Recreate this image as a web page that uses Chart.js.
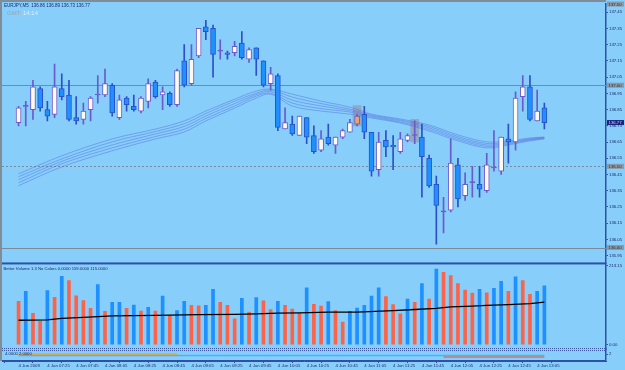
<!DOCTYPE html>
<html>
<head>
<meta charset="utf-8">
<script src="https://cdn.jsdelivr.net/npm/chart.js@4.4.1/dist/chart.umd.min.js"></script>
<style>
  html, body { margin: 0; padding: 0; background: #87cefa; }
  canvas { display: block; }
</style>
</head>
<body>
<canvas id="chart" width="625" height="370"></canvas>
<script>
// EURJPY M5, 4 Jun 2009 07:05 .. 13:10
const timeLabels = ["4 Jun 2009", "4 Jun 07:25", "4 Jun 07:45", "4 Jun 08:05", "4 Jun 08:25",
  "4 Jun 08:45", "4 Jun 09:05", "4 Jun 09:25", "4 Jun 09:45", "4 Jun 10:05", "4 Jun 10:25",
  "4 Jun 10:45", "4 Jun 11:05", "4 Jun 11:25", "4 Jun 11:45", "4 Jun 12:05", "4 Jun 12:25",
  "4 Jun 12:45", "4 Jun 13:05"];
const timeTickIdx = [0, 4, 8, 12, 16, 20, 24, 28, 32, 36, 40, 44, 48, 52, 56, 60, 64, 68, 72];

const opens = [136.77, 136.87, 136.85, 136.98, 136.85, 136.82, 136.98, 136.94, 136.80, 136.79,
  136.85, 136.94, 136.94, 137.00, 136.80, 136.92, 136.87, 136.84, 136.90, 137.02,
  136.94, 136.95, 136.88, 137.15, 137.01, 137.18, 137.36, 137.35, 137.21, 137.20,
  137.20, 137.26, 137.16, 137.23, 137.15, 137.01, 137.06, 136.73, 136.76, 136.69,
  136.80, 136.69, 136.60, 136.68, 136.63, 136.68, 136.71, 136.76, 136.82, 136.71,
  136.48, 136.66, 136.63, 136.59, 136.66, 136.69, 136.68, 136.55, 136.39, 136.22,
  136.23, 136.51, 136.32, 136.40, 136.39, 136.35, 136.49, 136.47, 136.67, 136.65,
  136.93, 136.99, 136.78, 136.86];
const highs = [136.87, 136.90, 137.03, 136.99, 136.90, 137.13, 137.07, 137.03, 136.93, 136.89,
  136.93, 137.06, 137.10, 137.01, 136.94, 136.93, 136.94, 136.93, 137.04, 137.03,
  136.99, 136.96, 137.10, 137.25, 137.25, 137.35, 137.40, 137.37, 137.28, 137.21,
  137.27, 137.33, 137.23, 137.23, 137.15, 137.11, 137.07, 136.86, 136.81, 136.81,
  136.80, 136.75, 136.72, 136.76, 136.68, 136.73, 136.79, 136.82, 136.87, 136.71,
  136.71, 136.72, 136.69, 136.71, 136.70, 136.78, 136.76, 136.57, 136.44, 136.31,
  136.67, 136.55, 136.46, 136.50, 136.50, 136.58, 136.72, 136.68, 136.76, 136.96,
  137.06, 137.06, 136.97, 136.89];
const lows = [136.75, 136.75, 136.79, 136.84, 136.78, 136.80, 136.91, 136.78, 136.76, 136.76,
  136.78, 136.89, 136.93, 136.81, 136.79, 136.84, 136.84, 136.83, 136.86, 136.92,
  136.85, 136.87, 136.87, 136.99, 137.00, 137.17, 137.28, 137.05, 137.16, 137.16,
  137.18, 137.16, 137.14, 137.06, 136.99, 136.97, 136.72, 136.73, 136.69, 136.69,
  136.64, 136.58, 136.59, 136.63, 136.58, 136.67, 136.71, 136.75, 136.67, 136.44,
  136.44, 136.56, 136.48, 136.58, 136.65, 136.64, 136.31, 136.37, 136.02, 136.09,
  136.22, 136.25, 136.29, 136.31, 136.31, 136.34, 136.47, 136.45, 136.52, 136.60,
  136.84, 136.78, 136.78, 136.73];
const closes = [136.86, 136.87, 136.99, 136.86, 136.81, 136.99, 136.93, 136.79, 136.78, 136.84,
  136.92, 136.94, 137.01, 136.83, 136.91, 136.88, 136.85, 136.92, 137.01, 136.93,
  136.96, 136.88, 137.09, 137.00, 137.16, 137.35, 137.33, 137.19, 137.21, 137.19,
  137.24, 137.17, 137.22, 137.16, 137.00, 137.07, 136.74, 136.77, 136.70, 136.81,
  136.68, 136.59, 136.67, 136.64, 136.68, 136.72, 136.77, 136.81, 136.71, 136.47,
  136.65, 136.62, 136.62, 136.67, 136.69, 136.69, 136.56, 136.38, 136.26, 136.22,
  136.52, 136.30, 136.39, 136.40, 136.36, 136.51, 136.49, 136.68, 136.65, 136.92,
  136.99, 136.79, 136.84, 136.77];

// marked bars (grey boxes) and their price span
const markIdx = [47, 55];
const markLo = [136.75, 136.65];
const markHi = [136.875, 136.79];

// moving average ribbon, read at these bars
const maIdx = [0, 6, 13, 19, 23, 26, 30, 33, 35, 38, 42, 46, 49, 53, 57, 61, 65, 68, 71, 73];
const ma1 = [136.454, 136.565, 136.669, 136.730, 136.780, 136.841, 136.914, 136.964, 136.976, 136.945,
  136.902, 136.865, 136.822, 136.792, 136.755, 136.694, 136.651, 136.657, 136.675, 136.681];
const ma2 = [136.436, 136.546, 136.651, 136.715, 136.763, 136.826, 136.902, 136.951, 136.970, 136.927,
  136.887, 136.853, 136.816, 136.786, 136.746, 136.684, 136.641, 136.651, 136.670, 136.678];
const ma3 = [136.418, 136.531, 136.632, 136.700, 136.746, 136.810, 136.887, 136.942, 136.961, 136.908,
  136.872, 136.844, 136.810, 136.780, 136.737, 136.675, 136.632, 136.645, 136.666, 136.675];
const ma4 = [136.399, 136.516, 136.614, 136.684, 136.729, 136.795, 136.872, 136.933, 136.951, 136.890,
  136.856, 136.835, 136.804, 136.773, 136.727, 136.666, 136.623, 136.638, 136.662, 136.672];
const ma5 = [136.381, 136.497, 136.596, 136.669, 136.712, 136.780, 136.859, 136.921, 136.945, 136.872,
  136.841, 136.822, 136.798, 136.767, 136.718, 136.657, 136.614, 136.632, 136.657, 136.669];

const priceTicks = [137.45, 137.35, 137.25, 137.15, 137.05, 136.95, 136.85, 136.75, 136.65,
  136.55, 136.45, 136.35, 136.25, 136.15, 136.05, 135.95];
const levelLines = [137.00, 136.50, 136.00];
const tagLevels = [137.50, 137.00, 136.50, 136.00];

// Better Volume
const volumes = [117, 144, 85, 63, 146, 128, 184, 173, 132, 119,
  98, 162, 90, 114, 114, 98, 107, 91, 101, 91,
  131, 79, 92, 117, 106, 105, 106, 149, 114, 106,
  70, 125, 88, 127, 118, 95, 117, 106, 96, 85,
  153, 109, 104, 116, 92, 61, 90, 99, 106, 131,
  153, 130, 108, 83, 123, 114, 165, 123, 204, 195,
  186, 165, 147, 139, 149, 140, 152, 171, 144, 183,
  173, 136, 144, 159];
const volSide = ["d", "u", "d", "d", "u", "d", "u", "d", "d", "d",
  "d", "u", "d", "u", "u", "d", "u", "d", "u", "d",
  "u", "d", "u", "u", "d", "d", "u", "u", "d", "d",
  "d", "u", "d", "u", "d", "d", "u", "d", "d", "d",
  "u", "d", "d", "u", "d", "d", "u", "u", "u", "u",
  "u", "d", "d", "d", "u", "d", "u", "d", "u", "d",
  "d", "d", "d", "d", "u", "d", "u", "u", "d", "u",
  "d", "d", "u", "u"];
const volAvgIdx = [0, 4, 6, 9, 13, 19, 25, 30, 33, 36, 39, 43, 47, 52, 55, 58, 60, 63, 65, 68, 71, 73];
const volAvg = [66, 67, 71, 74, 78, 79, 81, 82, 83, 85, 86, 88, 88, 92, 95, 98, 102, 104, 106, 108, 111, 115];
const volTicks = [213.15, 0];

// bottom indicator: level segments
const indFrom = [0, 0, 59];
const indTo = [22, 73, 73];
const indLevel = [2.0, 1.2, 0.5];

const bars = opens.map((_, i) => i);
function kind(i) {
  if (closes[i] > opens[i]) return "up";
  if (closes[i] < opens[i]) return "down";
  return "doji";
}
const bodyFill = { up: "#fffaf0", down: "#1e90ff", doji: "#6a5acd" };
const edge = { up: "#6a5acd", down: "#2b50c8", doji: "#6a5acd" };
const tiny = { family: "Liberation Sans", size: 4.3 };
const navy = "#1a2a6e";
const axisBlue = "#2f4fa8";

const decor = {
  id: "decor",
  beforeDatasetsDraw(chart) {
    const { ctx, chartArea: a } = chart;
    const y = chart.scales.y;
    ctx.save();
    ctx.lineWidth = 1;
    levelLines.forEach((lv, k) => {
      const py = Math.round(y.getPixelForValue(lv)) + 0.5;
      ctx.strokeStyle = "#7b8a98";
      ctx.setLineDash(k === 1 ? [2, 2] : []);
      ctx.beginPath();
      ctx.moveTo(a.left, py);
      ctx.lineTo(a.right, py);
      ctx.stroke();
    });
    ctx.restore();
  },
  afterDraw(chart) {
    const { ctx, chartArea: a } = chart;
    const { y, yv, yi } = chart.scales;
    ctx.save();
    // frame
    ctx.fillStyle = "#7f8c99";
    ctx.fillRect(0, 0, a.right, 2);
    ctx.fillRect(0, 0, 2, a.bottom);
    ctx.fillStyle = axisBlue;
    ctx.fillRect(a.left, y.bottom - 1, a.right - a.left, 2);
    ctx.fillRect(a.left, a.bottom - 1, a.right - a.left, 1);
    ctx.strokeStyle = "#3a55a0";
    ctx.setLineDash([1, 1]);
    ctx.beginPath();
    ctx.moveTo(a.left, yv.bottom - 0.5);
    ctx.lineTo(a.right, yv.bottom - 0.5);
    ctx.moveTo(a.left, yv.bottom + 1.5);
    ctx.lineTo(a.right, yv.bottom + 1.5);
    ctx.stroke();
    ctx.setLineDash([]);

    // price tags on the axis
    ctx.font = '4.3px "Liberation Sans"';
    ctx.textBaseline = "middle";
    tagLevels.forEach((lv) => {
      const py = y.getPixelForValue(lv);
      ctx.fillStyle = "#8d99a4";
      ctx.fillRect(a.right + 1, py - 2.5, 17, 5);
      ctx.fillStyle = "#2c3440";
      ctx.fillText(lv.toFixed(2), a.right + 2.5, py + 0.3);
    });
    const last = closes[closes.length - 1];
    const pc = y.getPixelForValue(last);
    ctx.fillStyle = "#1b2480";
    ctx.fillRect(a.right + 1, pc - 2.5, 17, 5);
    ctx.fillStyle = "#c9d2ff";
    ctx.fillText(last.toFixed(2), a.right + 2.5, pc + 0.3);

    // texts
    const n = opens.length - 1;
    ctx.fillStyle = navy;
    ctx.font = '4.5px "Liberation Sans"';
    ctx.fillText("EURJPY,M5  " + [opens[n], highs[n], lows[n], closes[n]].map((v) => v.toFixed(2)).join(" "), 4, 5.8);
    ctx.font = '6px "Liberation Sans"';
    ctx.fillStyle = "#9aa5b0";
    ctx.fillText("GMT:", 7, 13.8);
    ctx.fillStyle = "#e3ebf3";
    ctx.fillText("14:14", 7 + ctx.measureText("GMT: ").width, 13.8);
    ctx.fillStyle = navy;
    ctx.font = '4.2px "Liberation Sans"';
    ctx.fillText("Better Volume 1.3 No Colors 0.0000 " + volumes[n].toFixed(4) + " " +
      volAvg[volAvg.length - 1].toFixed(4), 3.5, yv.top + 5.5);
    ctx.fillText("4.0000 2.0000", 5, yi.top + 4.5);
    ctx.restore();
  }
};

const ctx = document.getElementById("chart").getContext("2d");

const maLines = [ma1, ma2, ma3, ma4, ma5].map((arr) => ({
  type: "line",
  data: maIdx.map((x, k) => ({ x: x, y: arr[k] })),
  borderColor: "rgba(75, 95, 215, 0.45)",
  borderWidth: 0.9,
  pointRadius: 0,
  tension: 0.35,
  yAxisID: "y",
  order: 9,
}));

const indColors = ["#f0a030", "#40b8f8", "#f06a4a"];
const indLines = indLevel.map((lv, k) => ({
  type: "line",
  data: [{ x: indFrom[k], y: lv }, { x: indTo[k], y: lv }],
  borderColor: indColors[k],
  borderWidth: 1.5,
  pointRadius: 0,
  yAxisID: "yi",
  order: 1,
}));

new Chart(ctx, {
  type: "bar",
  data: {
    datasets: [
      {
        label: "marks",
        data: markIdx.map((x, k) => ({ x: x, y: [markLo[k], markHi[k]] })),
        backgroundColor: "rgba(150, 145, 160, 0.6)",
        barThickness: 8,
        grouped: false,
        yAxisID: "y",
        order: 10,
      },
      ...maLines,
      {
        label: "wicks",
        data: bars.map((i) => ({ x: i, y: [lows[i], highs[i]] })),
        backgroundColor: bars.map((i) => edge[kind(i)]),
        barThickness: 1,
        grouped: false,
        yAxisID: "y",
        order: 6,
      },
      {
        label: "bodies",
        data: bars.map((i) => ({ x: i, y: [opens[i], closes[i]] })),
        backgroundColor: bars.map((i) => (i === markIdx[0] ? "#f4a460" : bodyFill[kind(i)])),
        borderColor: bars.map((i) => edge[kind(i)]),
        borderWidth: 1,
        borderSkipped: false,
        barThickness: 5,
        minBarLength: 1,
        grouped: false,
        yAxisID: "y",
        order: 5,
      },
      {
        label: "volume",
        data: bars.map((i) => ({ x: i, y: volumes[i] })),
        backgroundColor: bars.map((i) => (volSide[i] === "u" ? "#1e90ff" : "#ff6347")),
        barThickness: 3,
        grouped: false,
        yAxisID: "yv",
        order: 4,
      },
      {
        type: "line",
        label: "volume avg",
        data: volAvgIdx.map((x, k) => ({ x: x, y: volAvg[k] })),
        borderColor: "#000000",
        borderWidth: 1.3,
        pointRadius: 0,
        yAxisID: "yv",
        order: 3,
      },
      ...indLines,
    ],
  },
  options: {
    responsive: false,
    animation: false,
    layout: { padding: { left: 2, top: 2, right: 0, bottom: 0 } },
    plugins: { legend: { display: false }, tooltip: { enabled: false } },
    scales: {
      x: {
        type: "linear",
        min: -0.092,
        max: 79.35,
        afterBuildTicks: (s) => { s.ticks = timeTickIdx.map((v) => ({ value: v })); },
        afterFit: (s) => { s.height = 9; },
        ticks: {
          callback: (v, k) => timeLabels[k],
          font: tiny,
          color: navy,
          align: "start",
          maxRotation: 0,
          autoSkip: false,
          padding: 0.5,
        },
        grid: { drawOnChartArea: false, tickLength: 2, color: axisBlue },
        border: { color: axisBlue },
      },
      y: {
        position: "right",
        stack: "panes",
        stackWeight: 261,
        min: 135.902,
        max: 137.503,
        afterBuildTicks: (s) => { s.ticks = priceTicks.map((v) => ({ value: v })); },
        afterFit: (s) => { s.width = 19; },
        ticks: { callback: (v) => v.toFixed(2), font: tiny, color: navy, padding: 1 },
        grid: { drawOnChartArea: false, tickLength: 2, color: axisBlue },
        border: { color: axisBlue, width: 1.5 },
      },
      yv: {
        position: "right",
        stack: "panes",
        stackWeight: 86,
        min: -11.5,
        max: 219,
        afterBuildTicks: (s) => { s.ticks = volTicks.map((v) => ({ value: v })); },
        afterFit: (s) => { s.width = 19; },
        ticks: { callback: (v) => v.toFixed(2), font: tiny, color: navy, padding: 1 },
        grid: { drawOnChartArea: false, tickLength: 2, color: axisBlue },
        border: { color: axisBlue, width: 1.5 },
      },
      yi: {
        position: "right",
        stack: "panes",
        stackWeight: 12,
        min: -1.5,
        max: 4.5,
        afterBuildTicks: (s) => { s.ticks = [{ value: 2 }]; },
        afterFit: (s) => { s.width = 19; },
        ticks: { callback: (v) => String(v), font: tiny, color: navy, padding: 1 },
        grid: { drawOnChartArea: false, tickLength: 2, color: axisBlue },
        border: { color: axisBlue, width: 1.5 },
      },
    },
  },
  plugins: [decor],
});
</script>
</body>
</html>
